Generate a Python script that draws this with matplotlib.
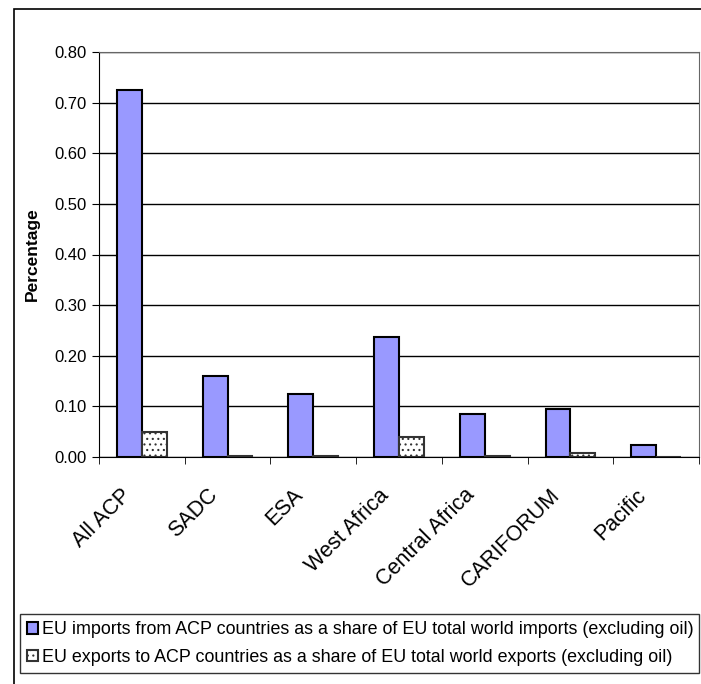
import numpy as np
import matplotlib
matplotlib.use("Agg")
import matplotlib.pyplot as plt
import matplotlib.transforms as mtransforms
from matplotlib.patches import Rectangle

plt.rcParams['font.family'] = ['Liberation Sans', 'DejaVu Sans']
plt.rcParams['hatch.linewidth'] = 0.8

# data
regions = ['All ACP', 'SADC', 'ESA', 'West Africa', 'Central Africa',
           'CARIFORUM', 'Pacific']
imports_share = [0.725, 0.160, 0.125, 0.237, 0.084, 0.094, 0.023]
exports_share = [0.050, 0.001, 0.001, 0.039, 0.001, 0.008, 0.000]
yticks = [0.0, 0.1, 0.2, 0.3, 0.4, 0.5, 0.6, 0.7, 0.8]
import_label = 'EU imports from ACP countries as a share of EU total world imports (excluding oil)'
export_label = 'EU exports to ACP countries as a share of EU total world exports (excluding oil)'

W, H = 701, 684
fig = plt.figure(figsize=(W / 100, H / 100), dpi=100)

# outer chart border (cut off at right and bottom like the original)
fig.patches.append(Rectangle((14 / W, -0.05), 1.1, 1 - 9 / H + 0.05,
                             transform=fig.transFigure, fill=False,
                             edgecolor='black', linewidth=1.2))

ax = fig.add_axes([99 / W, 1 - 457 / H, 600 / W, 405 / H])

x = np.arange(len(regions))
bw = 0.29
b1 = ax.bar(x - bw / 2, imports_share, bw, color='#9999ff',
            edgecolor='black', linewidth=1.5, zorder=3, label=import_label)
b2 = ax.bar(x + bw / 2, exports_share, bw, color='white', hatch='...',
            edgecolor='#333333', linewidth=1.5, zorder=3, label=export_label)

ax.set_xlim(-0.5, len(regions) - 0.5)
ax.set_ylim(0, 0.8)
ax.set_yticks(yticks)
ax.set_yticklabels(['%.2f' % v for v in yticks], fontsize=12)
ax.yaxis.grid(True, color='black', linewidth=1)
ax.set_axisbelow(True)

ax.set_xticks(x)
ax.set_xticklabels(regions, rotation=45, ha='right', rotation_mode='anchor',
                   fontsize=15.5)
ax.tick_params(axis='x', which='major', length=0, pad=20)
# nudge the slanted labels left, as in the original
shift = mtransforms.ScaledTranslation(-21 / 100, 0, fig.dpi_scale_trans)
for lab in ax.get_xticklabels():
    lab.set_transform(lab.get_transform() + shift)
ax.set_xticks(np.arange(-0.5, len(regions)), minor=True)
ax.tick_params(axis='x', which='minor', length=5, direction='out')
ax.tick_params(axis='y', length=5, direction='out', pad=4)

for s in ['top', 'right']:
    ax.spines[s].set_color('#666666')
ax.spines['left'].set_color('black')
ax.spines['bottom'].set_color('black')

ax.set_ylabel('Percentage', fontsize=12.5, fontweight='bold')
ax.yaxis.set_label_coords((40 - 99) / 600, 0.5)

leg = fig.legend(handles=[b1, b2], loc='upper left',
                 bbox_to_anchor=(20 / W, 1 - 614 / H, 679 / W, 0),
                 mode='expand', borderaxespad=0, fontsize=12.9,
                 handlelength=0.6, handleheight=0.6, handletextpad=0.2,
                 labelspacing=0.6, borderpad=0.4, fancybox=False)
leg.get_frame().set_edgecolor('black')
leg.get_frame().set_linewidth(1)

fig.savefig('out.png', dpi=100)
